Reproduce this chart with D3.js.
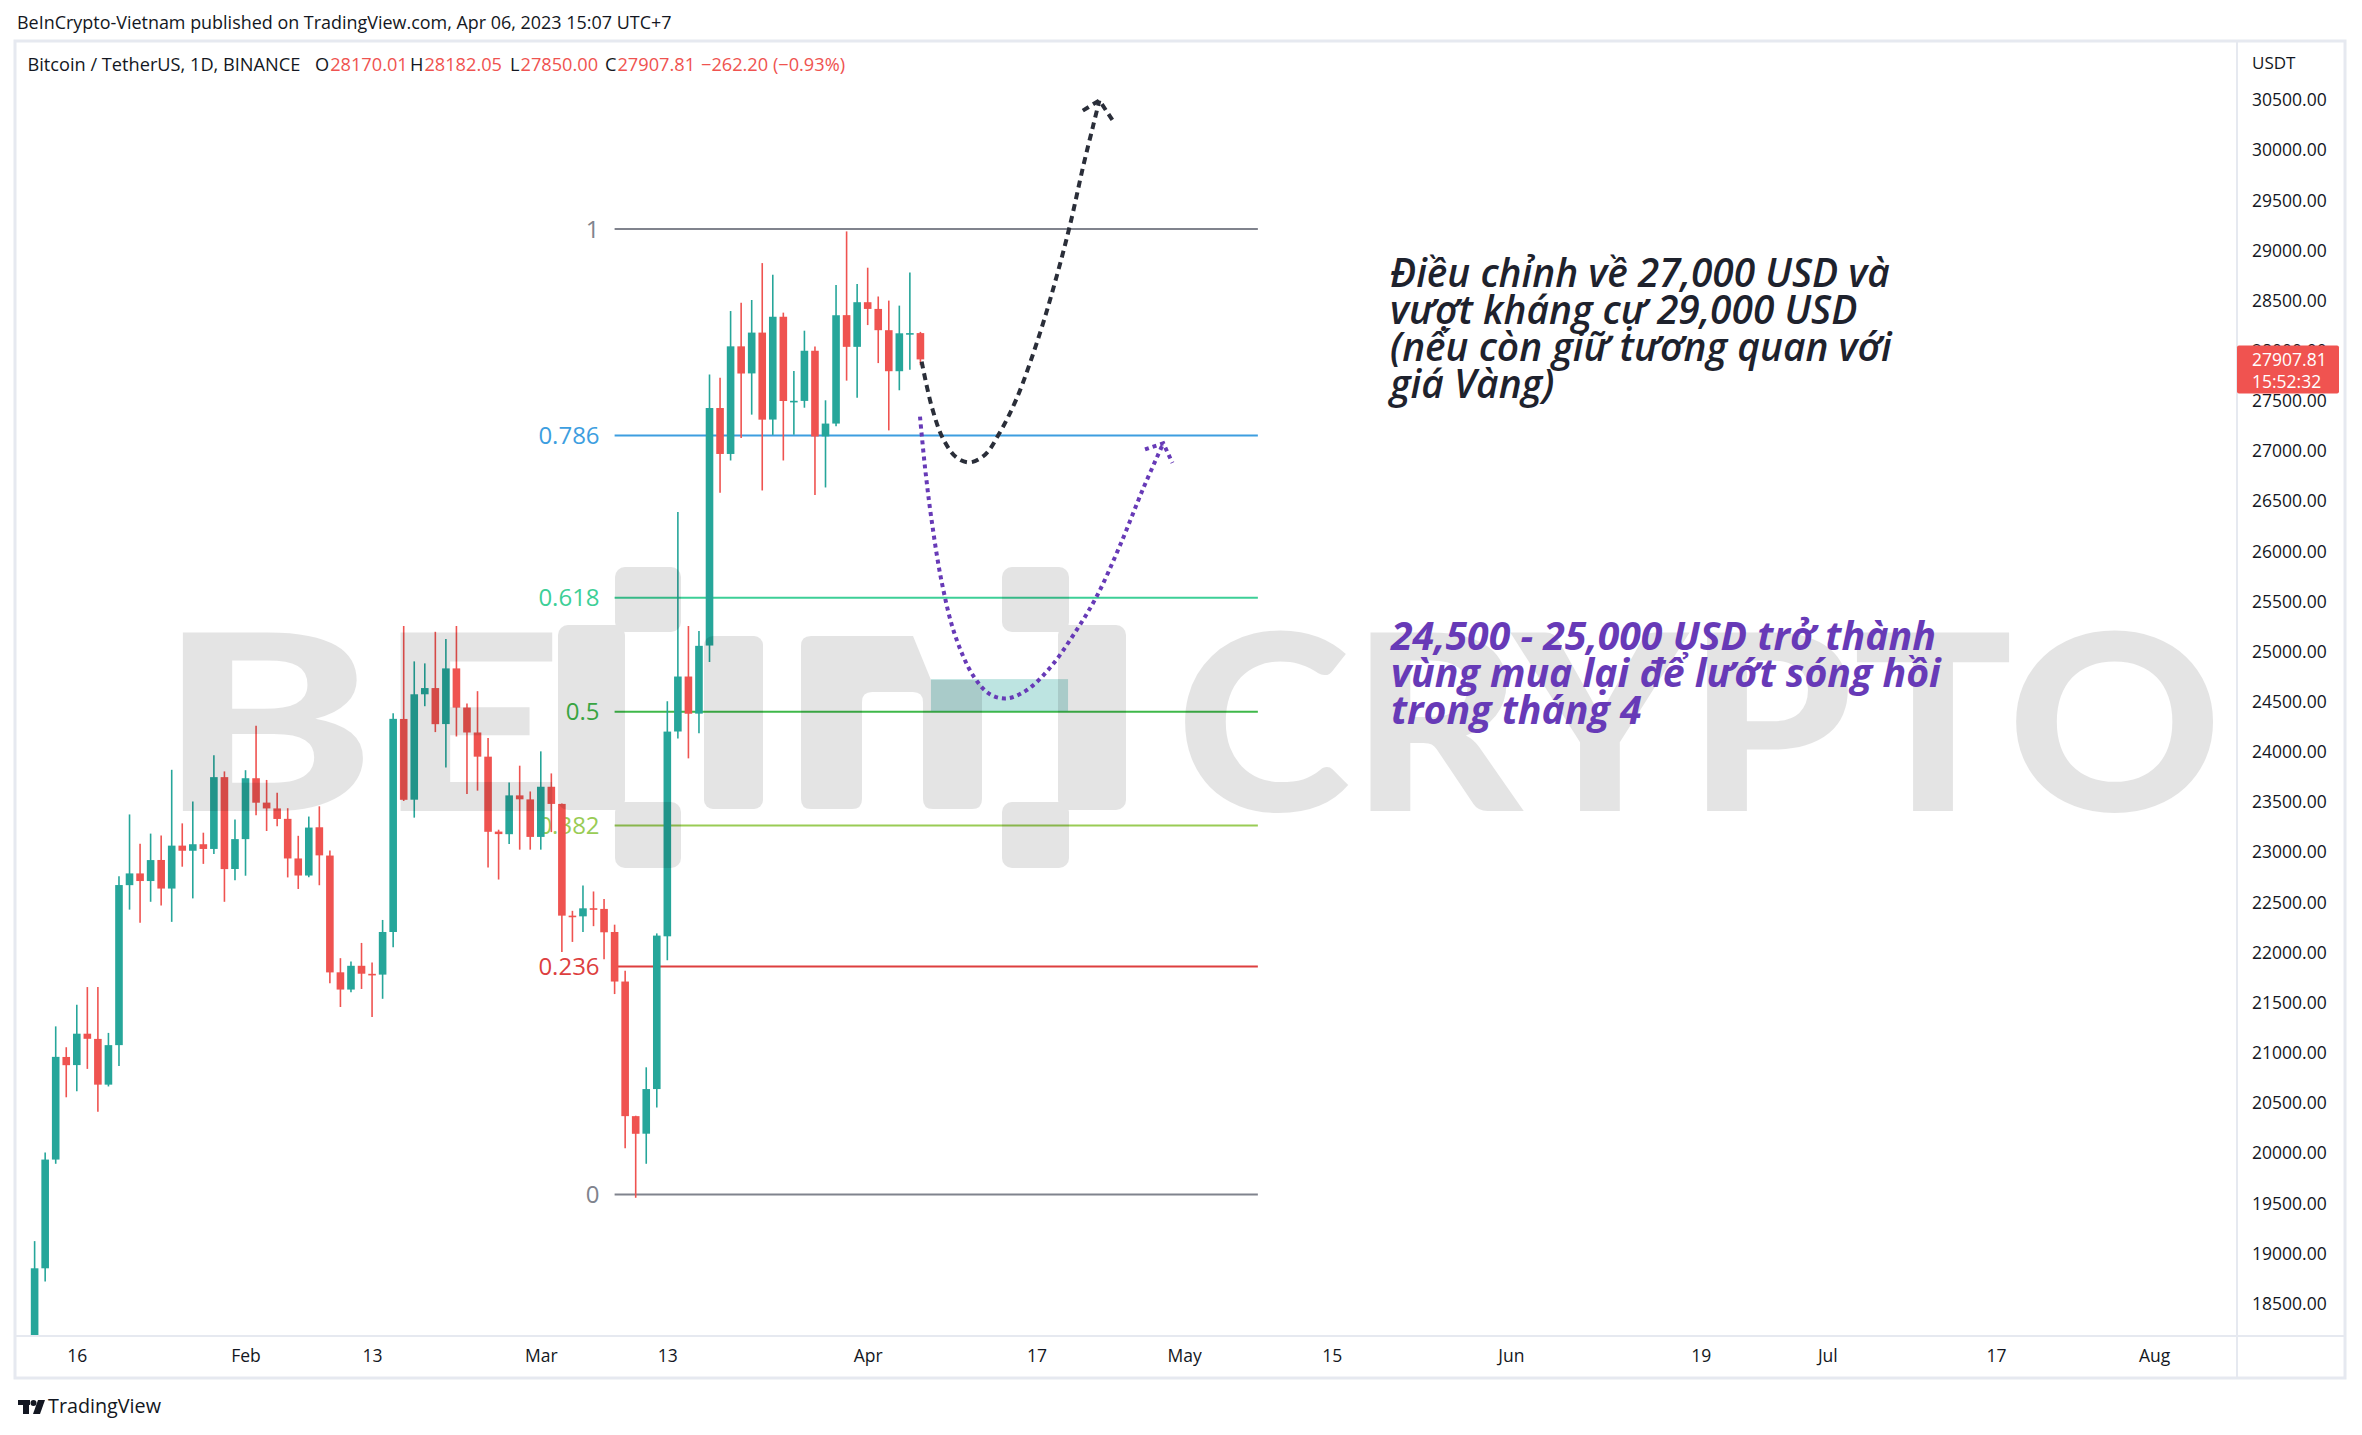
<!DOCTYPE html>
<html><head><meta charset="utf-8">
<script src="https://cdn.jsdelivr.net/npm/d3@7"></script>
<style>body{margin:0;background:#fff;}svg{display:block}</style>
</head><body><svg id="c" width="2362" height="1435"></svg>
<script>
// ---------------- DATA ----------------
const candleStart = "2023-01-12", candleEnd = "2023-04-07"; // daily candles Jan 12 .. Apr 6
const opens = [17943,18846,19930,20953,20872,21185,21133,20677,21071,22666,22783,22707,22917,22632,23060,23009,23074,23027,23743,22827,
23125,23732,23489,23431,23327,22932,22762,23243,22961,21797,21625,21862,21782,21774,22199,24323,23518,24569,24631,24272,24827,24437,24188,23947,23200,23174,23561,23521,
23147,23647,23476,22362,22355,22436,22429,22199,21705,20363,20188,20633,22156,24198,24746,24376,25055,27423,26965,28038,27768,28175,27308,28333,27494,27494,27994,27140,27268,28349,28033,
28478,28411,28199,27790,28168,28170.01];
const highs = [19117,20000,21258,21050,21474,21650,21650,21193,22755,23371,23078,23180,23162,23816,23282,23500,23189,23960,23800,23320,
23812,24255,23715,23587,23433,23158,23350,23452,23011,21938,21906,22090,21894,22319,24380,25250,24897,24877,25192,25121,25250,24476,24600,24132,23219,23689,23857,23600,
24000,23780,23479,22410,22662,22603,22527,22272,21813,20367,20850,22185,24500,26386,25250,25200,27756,27725,28390,28473,28500,28868,28752,28374,27792,28194,28037,27500,28650,29184,28660,
28822,28535,28494,28444,28775,28182.05];
const lows = [17892,18714,19888,20551,20611,20834,20407,20659,20862,22422,22292,22500,22462,22300,22850,22534,22878,22976,22500,22714,
22760,23364,23206,23253,22743,22628,22745,22665,21688,21451,21599,21631,21351,21533,22048,23505,23339,24450,24192,23840,24148,23574,23608,22841,22722,23077,23020,23020,
23020,23195,22000,22100,22199,22257,21927,21580,20042,19549,19888,20449,21918,24127,23930,24180,24890,26578,26900,27125,27357,26601,27155,26900,27156,27426,26555,26631,27241,27696,27525,
28250,27871,27200,27600,27805,27850.00];
const closes = [18846,19930,20954,20871,21185,21134,20677,21071,22667,22783,22707,22916,22632,23060,23009,23074,23027,23743,22826,23125,
23732,23488,23431,23326,22932,22762,23240,22963,21796,21625,21862,21783,21773,22199,24324,23517,24569,24631,24271,24827,24436,24188,23947,23198,23175,23561,23522,23147,
23647,23476,22362,22354,22435,22429,22196,21705,20363,20187,20633,22163,24197,24746,24375,25052,27423,26965,28038,27767,28175,27307,28333,27493,27495,27994,27139,27268,28348,28033,28478,
28411,28199,27790,28168,28170,27907.81];

const priceTicks = [18500,19000,19500,20000,20500,21000,21500,22000,22500,23000,23500,24000,24500,25000,25500,26000,26500,27000,27500,28000,28500,29000,29500,30000,30500];
const timeTickDates = ["2023-01-16","2023-02-01","2023-02-13","2023-03-01","2023-03-13","2023-04-01","2023-04-17","2023-05-01","2023-05-15","2023-06-01","2023-06-19","2023-07-01","2023-07-17","2023-08-01"];
const timeTickLabels = ["16","Feb","13","Mar","13","Apr","17","May","15","Jun","19","Jul","17","Aug"];

const fibLevels = [0, 0.236, 0.382, 0.5, 0.618, 0.786, 1];
const fibLabels = ["0", "0.236", "0.382", "0.5", "0.618", "0.786", "1"];
const fibLow = 19583, fibHigh = 29208;
const fibFrom = "2023-03-08", fibTo = "2023-05-08";

const zoneFrom = "2023-04-07", zoneTo = "2023-04-20", zoneLow = 24400, zoneHigh = 24720;

// hand-drawn projection paths: day offsets from pathOrigin, prices
const pathOrigin = "2023-01-16";
const blackDays   = [80.12, 81.07, 82.17, 83.44, 84.70, 86.13, 87.39, 89.13, 91.34, 92.93, 94.19, 95.45, 96.40, 96.97];
const blackPrices = [27886, 27438, 27112, 26929, 26881, 26958, 27153, 27519, 28171, 28740, 29249, 29839, 30246, 30490];
const blackHeadDays = [95.4, 96.97, 98.2], blackHeadPrices = [30388, 30490, 30295];
const purpleDays   = [79.96, 80.44, 81.07, 82.02, 83.28, 85.02, 86.60, 88.18, 90.08, 92.29, 94.50, 96.72, 98.93, 101.14, 103.03];
const purplePrices = [27337, 26827, 26299, 25688, 25159, 24752, 24569, 24528, 24610, 24833, 25159, 25546, 26054, 26624, 27071];
const purpleHeadDays = [101.3, 103.03, 103.9], purpleHeadPrices = [27010, 27071, 26876];

const lastPrice = 27907.81, lastTime = "15:52:32";
const headerText = "BeInCrypto-Vietnam published on TradingView.com, Apr 06, 2023 15:07 UTC+7";
const symbolText = "Bitcoin / TetherUS, 1D, BINANCE";
const ohlcLetters = ["O", "H", "L", "C"];
const ohlcValues = ["28170.01", "28182.05", "27850.00", "27907.81"];
const changeText = "\u2212262.20 (\u22120.93%)";
const blackNote = ["Điều chỉnh về 27,000 USD và", "vượt kháng cự 29,000 USD", "(nếu còn giữ tương quan với", "giá Vàng)"];
const purpleNote = ["24,500 - 25,000 USD trở thành", "vùng mua lại để lướt sóng hồi", "trong tháng 4"];

// ---------------- DRAW ----------------
const svg = d3.select("#c");
const FONT = "'Open Sans', 'Noto Sans', sans-serif";
const UP = "#26a69a", DOWN = "#ef5350";
const plot = {l: 15, r: 2237, t: 41, b: 1336};
const parse = d3.utcParse("%Y-%m-%d");
const x = d3.scaleUtc().domain([parse("2023-01-16"), parse("2023-08-01")]).range([76.8, 2154.2]);
const y = d3.scaleLinear().domain([18500, 30500]).range([1303, 99.4]);
const origin = parse(pathOrigin);
const dx = d => x(new Date(origin.getTime() + d * 864e5));

function fit(sel, target) {
  const w = sel.node().getComputedTextLength();
  const fs = +sel.attr("font-size");
  const nf = fs * target / w;
  sel.attr("font-size", nf);
  return nf;
}

svg.append("rect").attr("width", 2362).attr("height", 1435).attr("fill", "#fff");

// header
const hdr = svg.append("text").attr("x", 17).attr("y", 29).attr("font-family", FONT).attr("font-size", 16)
  .attr("fill", "#131722").text(headerText);
fit(hdr, 655);

// panel frame
svg.append("rect").attr("x", 15).attr("y", 41).attr("width", 2330).attr("height", 1337)
  .attr("fill", "none").attr("stroke", "#e6e9f0").attr("stroke-width", 3);
svg.append("line").attr("x1", 2237).attr("x2", 2237).attr("y1", 41).attr("y2", 1378).attr("stroke", "#e6e9f0").attr("stroke-width", 2);
svg.append("line").attr("x1", 15).attr("x2", 2345).attr("y1", 1336).attr("y2", 1336).attr("stroke", "#e6e9f0").attr("stroke-width", 2);

// clip
svg.append("clipPath").attr("id", "pc").append("rect")
  .attr("x", plot.l + 2).attr("y", plot.t + 2).attr("width", plot.r - plot.l - 3).attr("height", plot.b - plot.t - 3);
const g = svg.append("g").attr("clip-path", "url(#pc)");

// fib retracement
const fibColors = ["#80838d", "#dd3f3f", "#99cc55", "#3fb84a", "#3dcf97", "#3d9ee0", "#80838d"];
const fx1 = x(parse(fibFrom)), fx2 = x(parse(fibTo));
fibLevels.forEach((lv, i) => {
  const py = y(fibLow + lv * (fibHigh - fibLow));
  g.append("line").attr("x1", fx1).attr("x2", fx2).attr("y1", py).attr("y2", py)
    .attr("stroke", fibColors[i]).attr("stroke-width", 2);
  g.append("text").attr("x", fx1 - 15).attr("y", py).attr("dy", "0.36em").attr("text-anchor", "end")
    .attr("font-family", FONT).attr("font-size", 24).attr("fill", fibColors[i]).text(fibLabels[i]);
});

// zone
g.append("rect").attr("x", x(parse(zoneFrom))).attr("width", x(parse(zoneTo)) - x(parse(zoneFrom)))
  .attr("y", y(zoneHigh)).attr("height", y(zoneLow) - y(zoneHigh)).attr("fill", UP).attr("fill-opacity", 0.3);

// candles
const days = d3.utcDay.range(parse(candleStart), parse(candleEnd));
const candles = days.map((d, i) => ({d, o: opens[i], h: highs[i], l: lows[i], c: closes[i]}));
const cg = g.append("g");
const bw = 7.6;
cg.selectAll("line.w").data(candles).join("line").attr("class", "w")
  .attr("x1", d => x(d.d)).attr("x2", d => x(d.d)).attr("y1", d => y(d.h)).attr("y2", d => y(d.l))
  .attr("stroke", d => d.c >= d.o ? UP : DOWN).attr("stroke-width", 1.6);
cg.selectAll("rect.b").data(candles).join("rect").attr("class", "b")
  .attr("x", d => x(d.d) - bw / 2).attr("width", bw)
  .attr("y", d => y(Math.max(d.o, d.c)))
  .attr("height", d => Math.max(1.6, y(Math.min(d.o, d.c)) - y(Math.max(d.o, d.c))))
  .attr("fill", d => d.c >= d.o ? UP : DOWN);

// watermark
const wm = g.append("g").attr("opacity", 0.1).attr("fill", "#000");
wm.append("text").attr("x", 158).attr("y", 811).attr("font-family", "Lato, 'DejaVu Sans', sans-serif").attr("font-weight", 900)
  .attr("font-size", 246).attr("textLength", 406).attr("lengthAdjust", "spacingAndGlyphs").text("BE");
wm.append("text").attr("x", 1176).attr("y", 811).attr("font-family", "Lato, 'DejaVu Sans', sans-serif").attr("font-weight", 900)
  .attr("font-size", 246).attr("textLength", 1046).attr("lengthAdjust", "spacingAndGlyphs").text("CRYPTO");
const rr = (x0, y0, w, h, r) => wm.append("rect").attr("x", x0).attr("y", y0).attr("width", w).attr("height", h).attr("rx", r);
// left bracket
rr(558, 625, 67, 185, 10); rr(615, 567, 66, 65, 10); rr(615, 802, 66, 66, 10);
// i
rr(704, 636, 59, 173, 9);
// n
wm.append("path").attr("d", "M801,646 Q801,636 811,636 H913 L931,680 H972 Q982,680 982,690 V799 Q982,809 972,809 H933 Q923,809 923,799 V702 Q923,692 913,692 H872 Q862,692 862,702 V799 Q862,809 852,809 H811 Q801,809 801,799 Z");
// right bracket
rr(1058, 625, 68, 185, 10); rr(1002, 567, 67, 65, 10); rr(1002, 802, 67, 66, 10);

// projection curves
const curve = d3.line().x(d => dx(d[0])).y(d => y(d[1])).curve(d3.curveCatmullRom.alpha(0.5));
const straight = d3.line().x(d => dx(d[0])).y(d => y(d[1]));
const bPts = blackDays.map((d, i) => [d, blackPrices[i]]);
const pPts = purpleDays.map((d, i) => [d, purplePrices[i]]);
g.append("path").attr("d", curve(bPts)).attr("fill", "none").attr("stroke", "#2a2e39").attr("stroke-width", 4).attr("stroke-dasharray", "7,5");
g.append("path").attr("d", straight(blackHeadDays.map((d, i) => [d, blackHeadPrices[i]]))).attr("fill", "none")
  .attr("stroke", "#2a2e39").attr("stroke-width", 4).attr("stroke-dasharray", "7,5");
g.append("path").attr("d", curve(pPts)).attr("fill", "none").attr("stroke", "#673ab7").attr("stroke-width", 4).attr("stroke-dasharray", "4,4");
g.append("path").attr("d", straight(purpleHeadDays.map((d, i) => [d, purpleHeadPrices[i]]))).attr("fill", "none")
  .attr("stroke", "#673ab7").attr("stroke-width", 4).attr("stroke-dasharray", "4,4");

// notes
const NF = "'Open Sans', 'Noto Sans', sans-serif";
const bn = g.append("g").attr("font-family", NF).attr("font-style", "italic").attr("font-weight", 600).attr("fill", "#1e222d");
const bl = blackNote.map((t, i) => bn.append("text").attr("x", 1390).attr("y", 287 + i * 37).attr("font-size", 30).text(t));
const bfs = fit(bl[0], 500); bl.forEach(s => s.attr("font-size", bfs));
const pn = g.append("g").attr("font-family", NF).attr("font-style", "italic").attr("font-weight", 700).attr("fill", "#673ab7");
const pl = purpleNote.map((t, i) => pn.append("text").attr("x", 1391).attr("y", 650 + i * 37).attr("font-size", 30).text(t));
const pfs = fit(pl[0], 545); pl.forEach(s => s.attr("font-size", pfs));

// legend
const lg = svg.append("g").attr("font-family", FONT);
const sym = lg.append("text").attr("x", 27.5).attr("y", 71).attr("font-size", 16).attr("fill", "#131722").text(symbolText);
const lfs = fit(sym, 273);
const letterX = [315, 410, 510, 605];
ohlcLetters.forEach((l, i) => {
  const lt = lg.append("text").attr("x", letterX[i]).attr("y", 71).attr("font-size", lfs).attr("fill", "#131722").text(l);
  const lw = lt.node().getComputedTextLength();
  lg.append("text").attr("x", letterX[i] + lw + 1).attr("y", 71).attr("font-size", lfs).attr("fill", DOWN).text(ohlcValues[i]);
});
lg.append("text").attr("x", 701).attr("y", 71).attr("font-size", lfs).attr("fill", DOWN).text(changeText);

// price axis
const ya = svg.append("g").attr("transform", "translate(2252,0)")
  .call(d3.axisRight(y).tickValues(priceTicks).tickFormat(d => d.toFixed(2)).tickSize(0).tickPadding(0));
ya.select(".domain").remove();
ya.selectAll("text").attr("font-family", FONT).attr("font-size", 17.5).attr("fill", "#131722").attr("dy", "0.36em");
svg.append("text").attr("x", 2252).attr("y", 63).attr("dy", "0.36em").attr("font-family", FONT).attr("font-size", 17)
  .attr("fill", "#131722").text("USDT");
// last price tag
const ly = y(lastPrice);
svg.append("rect").attr("x", 2237).attr("y", ly - 14).attr("width", 102).attr("height", 48).attr("rx", 2).attr("fill", "#f05350");
svg.append("text").attr("x", 2252).attr("y", ly).attr("dy", "0.36em").attr("font-family", FONT).attr("font-size", 17.5)
  .attr("fill", "#fff").text(lastPrice.toFixed(2));
svg.append("text").attr("x", 2252).attr("y", ly + 22).attr("dy", "0.36em").attr("font-family", FONT).attr("font-size", 17.5)
  .attr("fill", "#fff").text(lastTime);

// time axis
const xa = svg.append("g").attr("transform", "translate(0,1356)")
  .call(d3.axisBottom(x).tickValues(timeTickDates.map(parse)).tickFormat((d, i) => timeTickLabels[i]).tickSize(0).tickPadding(0));
xa.select(".domain").remove();
xa.selectAll("text").attr("font-family", FONT).attr("font-size", 17.5).attr("fill", "#131722").attr("dy", "0.36em").attr("y", 0);

// TradingView logo
const tv = svg.append("g").attr("fill", "#131722");
tv.append("rect").attr("x", 18).attr("y", 1400).attr("width", 12).attr("height", 5);
tv.append("rect").attr("x", 23).attr("y", 1400).attr("width", 6).attr("height", 14);
tv.append("circle").attr("cx", 33.5).attr("cy", 1403).attr("r", 3);
tv.append("path").attr("d", "M38,1400 L45,1400 L40,1414 L33,1414 Z");
const tvt = tv.append("text").attr("x", 48).attr("y", 1413).attr("font-family", FONT).attr("font-size", 18).text("TradingView");
fit(tvt, 113);
</script></body></html>
